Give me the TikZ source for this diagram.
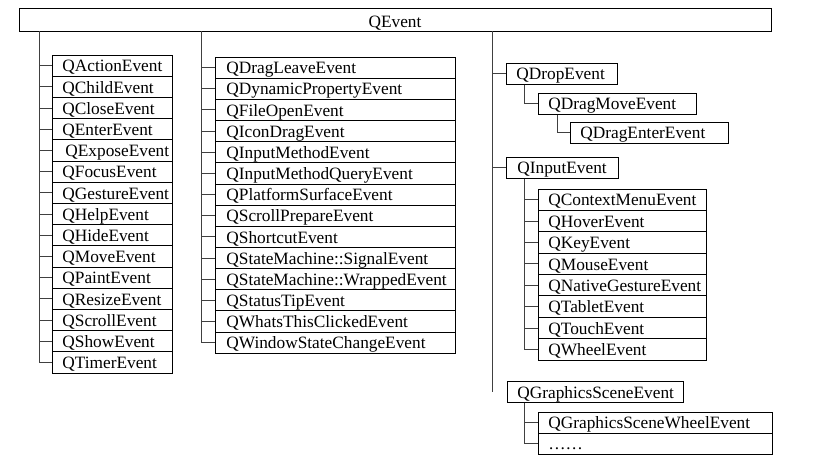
\documentclass[tikz,border=0pt]{standalone}
\usepackage{fontspec}
\setmainfont{Liberation Serif}
\begin{document}
\begin{tikzpicture}[x=1pt,y=-1pt,
  cell/.style={draw=black, line width=0.8pt, anchor=west, inner xsep=0pt, inner ysep=0pt,
    minimum height=21.2pt, align=left, font=\fontsize{17.3}{17.3}\selectfont,
    text height=14pt, text depth=1.5pt,
    execute at begin node={\hspace*{10pt}}},
  conn/.style={draw=black!75, line width=0.8pt}]
\useasboundingbox (0,0) rectangle (838,461);
% root
\node[draw=black, line width=0.8pt, minimum width=752pt, minimum height=23pt, inner sep=0pt,
  text height=15pt, text depth=0pt,
  font=\fontsize{17.3}{17.3}\selectfont] (qevent) at (395,19.5) {QEvent};
\coordinate (t1) at (39,0);
\coordinate (t2) at (201,0);
\coordinate (t3) at (492,0);
% column 1
\foreach \t [count=\i] in {QActionEvent,QChildEvent,QCloseEvent,QEnterEvent,{\kern3pt QExposeEvent},QFocusEvent,QGestureEvent,QHelpEvent,QHideEvent,QMoveEvent,QPaintEvent,QResizeEvent,QScrollEvent,QShowEvent,QTimerEvent}{
  \node[cell, text width=120pt] (a\i) at (52,{55+21.2*(\i-0.5)}) {\t};
  \draw[conn] (t1 |- a\i.west) -- (a\i.west);
}
\draw[conn] (qevent.south -| t1) -- (t1 |- a15.west);
% column 2
\foreach \t [count=\i] in {QDragLeaveEvent,QDynamicPropertyEvent,QFileOpenEvent,QIconDragEvent,QInputMethodEvent,QInputMethodQueryEvent,QPlatformSurfaceEvent,QScrollPrepareEvent,QShortcutEvent,QStateMachine::SignalEvent,QStateMachine::WrappedEvent,QStatusTipEvent,QWhatsThisClickedEvent,QWindowStateChangeEvent}{
  \node[cell, text width=240pt, minimum height=21.15pt, execute at begin node={\hspace*{1pt}}] (b\i) at (215,{57+21.15*(\i-0.5)}) {\t};
  \draw[conn] (t2 |- b\i.west) -- (b\i.west);
}
\draw[conn] (qevent.south -| t2) -- (t2 |- b14.west);
% column 3
\node[cell, text width=111pt] (drop) at (506,73.5) {QDropEvent};
\node[cell, text width=158pt] (dragmove) at (538,103.5) {QDragMoveEvent};
\node[cell, text width=158pt] (dragenter) at (570,132.5) {QDragEnterEvent};
\draw[conn] (t3 |- drop.west) -- (drop.west);
\draw[conn] (drop.south -| 524,0) |- (dragmove.west);
\draw[conn] (dragmove.south -| 557,0) |- (dragenter.west);
\node[cell, text width=112pt, execute at begin node={\hspace*{1pt}}] (input) at (506,167.5) {QInputEvent};
\draw[conn] (t3 |- input.west) -- (input.west);
\coordinate (t4) at (524,0);
\foreach \t [count=\i] in {QContextMenuEvent,QHoverEvent,QKeyEvent,QMouseEvent,QNativeGestureEvent,QTabletEvent,QTouchEvent,QWheelEvent}{
  \node[cell, text width=168pt, minimum height=21.375pt] (c\i) at (538,{189+21.375*(\i-0.5)}) {\t};
  \draw[conn] (t4 |- c\i.west) -- (c\i.west);
}
\draw[conn] (input.south -| t4) -- (t4 |- c8.west);
\node[cell, text width=176pt, minimum height=20.5pt] (gse) at (507,392) {QGraphicsSceneEvent};
\draw[conn] (qevent.south -| t3) -- (t3 |- gse.west);
\foreach \t [count=\i] in {QGraphicsSceneWheelEvent,\dots\dots}{
  \node[cell, text width=234pt, minimum height=21pt] (d\i) at (538,{412+21*(\i-0.5)}) {\t};
  \draw[conn] (t4 |- d\i.west) -- (d\i.west);
}
\draw[conn] (gse.south -| t4) -- (t4 |- d2.west);
\end{tikzpicture}
\end{document}
